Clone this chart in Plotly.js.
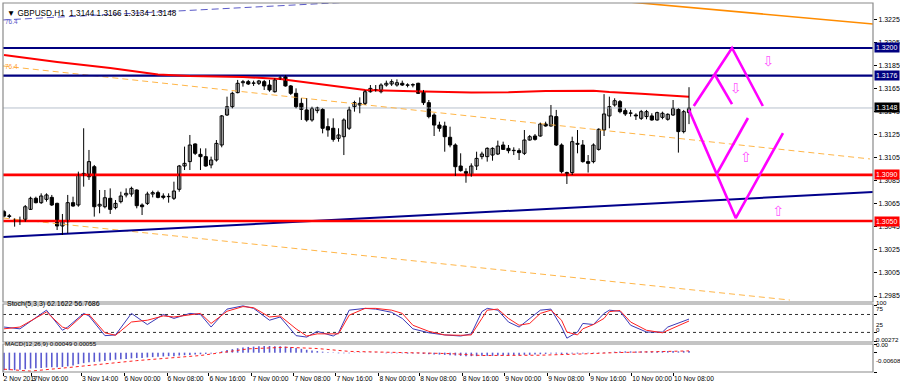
<!DOCTYPE html>
<html><head><meta charset="utf-8">
<script src="https://cdn.plot.ly/plotly-3.0.1.min.js"></script>
<style>html,body{margin:0;padding:0;background:#fff;}#chart{width:900px;height:387px;}</style>
</head><body><div id="chart"></div>
<script>
// ---- candles (bar index 0..129, H1 bars 2 Nov 2017 .. 10 Nov 10:00) ----
const barOpen = [1.30581,1.30545,1.30509,1.30503,1.30515,1.30601,1.30697,1.30659,1.30688,1.30705,
1.30653,1.30457,1.30494,1.30659,1.30639,1.30913,1.30884,1.30971,1.30630,1.30624,
1.30697,1.30616,1.30668,1.30726,1.30734,1.30769,1.30639,1.30653,1.30734,1.30746,
1.30717,1.30711,1.30697,1.30775,1.30977,1.31015,1.31168,1.31078,1.31058,1.30986,
1.31029,1.31159,1.31419,1.31491,1.31613,1.31699,1.31708,1.31694,1.31694,1.31708,
1.31679,1.31621,1.31737,1.31751,1.31671,1.31607,1.31520,1.31463,1.31376,1.31457,
1.31468,1.31318,1.31304,1.31217,1.31231,1.31304,1.31491,1.31506,1.31520,1.31621,
1.31636,1.31621,1.31679,1.31688,1.31679,1.31694,1.31679,1.31681,1.31694,1.31621,
1.31526,1.31419,1.31332,1.31324,1.31226,1.31159,1.30977,1.30928,1.30899,1.30977,
1.31058,1.31058,1.31072,1.31081,1.31159,1.31130,1.31110,1.31110,1.31087,1.31202,
1.31237,1.31237,1.31341,1.31324,1.31405,1.31159,1.30920,1.30920,1.31165,1.31159,
1.31015,1.31015,1.31121,1.31289,1.31411,1.31506,1.31535,1.31457,1.31434,1.31419,
1.31390,1.31405,1.31411,1.31376,1.31399,1.31382,1.31419,1.31468,1.31275,1.3144];
const barHigh = [1.30596,1.30561,1.30523,1.30538,1.30639,1.30711,1.30711,1.30740,1.30740,1.30726,
1.30659,1.30561,1.30726,1.30711,1.30928,1.31304,1.31116,1.30986,1.30769,1.30769,
1.30783,1.30682,1.30754,1.30783,1.30798,1.30775,1.30653,1.30754,1.30763,1.30763,
1.30740,1.30740,1.30841,1.30986,1.31145,1.31246,1.31173,1.31130,1.31130,1.31058,
1.31202,1.31419,1.31578,1.31621,1.31723,1.31723,1.31723,1.31717,1.31723,1.31723,
1.31723,1.31737,1.31757,1.31766,1.31679,1.31650,1.31564,1.31564,1.31491,1.31491,
1.31477,1.31390,1.31390,1.31304,1.31390,1.31491,1.31543,1.31572,1.31636,1.31679,
1.31679,1.31694,1.31717,1.31728,1.31728,1.31717,1.31694,1.31694,1.31699,1.31636,
1.31549,1.31434,1.31361,1.31361,1.31318,1.31173,1.31087,1.30957,1.31000,1.31101,
1.31101,1.31139,1.31139,1.31197,1.31188,1.31159,1.31139,1.31130,1.31289,1.31246,
1.31254,1.31353,1.31361,1.31506,1.31463,1.31173,1.30928,1.31231,1.31289,1.31202,
1.31072,1.31173,1.31304,1.31600,1.31578,1.31564,1.31549,1.31477,1.31463,1.31434,
1.31463,1.31463,1.31434,1.31448,1.31448,1.31434,1.31549,1.31477,1.31463,1.3166];
const barLow = [1.30532,1.30523,1.30451,1.30466,1.30494,1.30596,1.30653,1.30648,1.30668,1.30630,
1.30422,1.30379,1.30393,1.30624,1.30624,1.30798,1.30856,1.30538,1.30567,1.30610,
1.30561,1.30601,1.30653,1.30705,1.30711,1.30610,1.30552,1.30639,1.30705,1.30697,
1.30688,1.30659,1.30682,1.30754,1.30942,1.30942,1.31072,1.30942,1.30971,1.30957,
1.31015,1.31139,1.31411,1.31477,1.31607,1.31665,1.31679,1.31671,1.31679,1.31636,
1.31621,1.31613,1.31723,1.31665,1.31593,1.31477,1.31376,1.31361,1.31361,1.31434,
1.31260,1.31231,1.31188,1.31188,1.31072,1.31289,1.31448,1.31434,1.31506,1.31613,
1.31621,1.31607,1.31665,1.31671,1.31665,1.31671,1.31659,1.31659,1.31601,1.31506,
1.31390,1.31237,1.31275,1.31101,1.31139,1.30890,1.30928,1.30832,1.30884,1.30942,
1.31035,1.31015,1.31023,1.31072,1.31116,1.31087,1.31072,1.31029,1.31072,1.31197,
1.31197,1.31231,1.31318,1.31318,1.31150,1.30913,1.30821,1.30899,1.31087,1.31006,
1.30920,1.31000,1.31110,1.31237,1.31304,1.31491,1.31434,1.31411,1.31405,1.31376,
1.31376,1.31382,1.31370,1.31370,1.31382,1.31370,1.31411,1.31093,1.31260,1.3134];
const barClose = [1.30543,1.30540,1.30500,1.30505,1.30624,1.30697,1.30659,1.30717,1.30726,1.30639,
1.30457,1.30494,1.30659,1.30630,1.30899,1.30899,1.31015,1.30624,1.30645,1.30702,
1.30601,1.30653,1.30717,1.30740,1.30783,1.30633,1.30624,1.30734,1.30746,1.30705,
1.30705,1.30714,1.30760,1.30977,1.31000,1.31159,1.31087,1.31058,1.30977,1.31029,
1.31173,1.31411,1.31491,1.31607,1.31694,1.31708,1.31688,1.31696,1.31714,1.31671,
1.31636,1.31723,1.31739,1.31671,1.31607,1.31491,1.31468,1.31376,1.31477,1.31483,
1.31304,1.31289,1.31208,1.31246,1.31376,1.31463,1.31526,1.31520,1.31621,1.31650,
1.31639,1.31679,1.31694,1.31708,1.31699,1.31679,1.31677,1.31679,1.31607,1.31526,
1.31405,1.31332,1.31304,1.31231,1.31159,1.30971,1.30937,1.30913,1.30977,1.31043,
1.31081,1.31130,1.31130,1.31150,1.31121,1.31110,1.31113,1.31093,1.31202,1.31231,
1.31208,1.31341,1.31324,1.31411,1.31159,1.30928,1.30908,1.31188,1.31173,1.31015,
1.31000,1.31159,1.31295,1.31428,1.31491,1.31543,1.31448,1.31428,1.31436,1.31411,
1.31448,1.31448,1.31376,1.31440,1.31434,1.31425,1.31477,1.31275,1.31448,1.3148];

// ---- moving average (read at selected bars) ----
const maIdx = [0,10,20,29,35,45,52,58,65,68,77,88,95,102,111,114,120,127,129];
const maVal = [1.31939,1.31879,1.31827,1.31770,1.31757,1.31749,1.31731,1.31694,1.31656,1.31636,1.31625,1.31614,1.31616,1.31627,1.31630,1.31618,1.31604,1.31586,1.31578];

// ---- drawn objects (bar index, price) ----
const hLevelsNavy = [1.3200, 1.3176];
const hLevelsRed = [1.3090, 1.3050];
const bidLevel = 1.3148;
const fibBlueX = [-0.2, 70], fibBlueY = [1.32243, 1.32409];
const orangeTopX = [115, 163.65], orangeTopY = [1.32410, 1.32208];
const orangeDashUpX = [-0.2, 163.1], orangeDashUpY = [1.31844, 1.31038];
const orangeDashLowX = [-0.2, 148.0], orangeDashLowY = [1.30526, 1.29815];
const navyTrendX = [-0.2, 163.65], navyTrendY = [1.30361, 1.30751];
const zigX = [129.9,137.1,142.9,null,133.9,137.1,null,129.0,137.8,146.7,null,134.3,140.1];
const zigY = [1.31497,1.3200,1.31497,null,1.31766,1.31514,null,1.31462,1.30526,1.31263,null,1.30916,1.31393];
const arrowX = [143.9, 137.8, 139.7, 145.8];
const arrowY = [1.31870, 1.31636, 1.31046, 1.30578];
const arrowTxt = ['⇩','⇩','⇧','⇧'];

// ---- stochastic (5,3,3) ----
const stochIdx = [0,3,8,11,12,15,16,19,21,24,27,30,32,35,37,39,42,45,47,50,52,55,57,59,62,63,65,68,70,73,75,77,80,83,86,88,90,91,93,95,97,99,101,103,105,106,108,109,111,113,114,116,118,121,124,125,127,129];
const stochK = [40,35,87,31,40,78,71,16,18,78,47,75,64,78,75,40,90,99,92,59,68,16,12,28,15,24,87,92,90,81,64,35,24,18,15,21,83,92,87,54,40,64,87,90,40,9,26,50,47,78,87,84,45,26,26,40,50,62.16];
const stochD = [35,40,82,40,35,75,75,24,17,54,59,71,68,75,78,50,84,97,94,68,71,35,15,21,21,21,73,92,92,87,78,45,28,18,17,18,64,87,90,64,45,50,78,87,59,26,18,35,47,64,83,86,54,31,24,31,43,56.77];

// ---- MACD (12,26,9) ----
const macdHist = [-0.0055,-0.0055,-0.0055,-0.0054,-0.0052,-0.0050,-0.0049,-0.0048,-0.0047,
-0.0046,-0.0046,-0.0045,-0.0043,-0.0040,-0.0036,-0.0033,-0.0030,-0.0029,-0.0028,-0.0026,-0.0024,
-0.0022,-0.0021,-0.0020,-0.0018,-0.0017,-0.0017,-0.0015,-0.0014,-0.0013,-0.0012,-0.0011,-0.0011,
-0.0009,-0.0008,-0.0007,-0.0006,-0.0005,-0.0004,-0.0003,-0.0001,0.0004,0.0008,0.0011,
0.0014,0.0016,0.0018,0.0019,0.0020,0.0021,0.0021,0.0020,0.0020,0.0019,0.0017,0.0015,0.0012,
0.0009,0.0007,0.0005,0.0003,0.0001,-0.0001,
-0.0002,-0.0002,-0.0002,-0.0001,-0.0001,-0.0001,-0.0001,-0.0001,-0.0001,-0.0002,-0.0002,-0.0002,-0.0002,
-0.0003,-0.0003,-0.0003,-0.0004,-0.0005,-0.0006,-0.0006,-0.0007,-0.0008,
-0.0009,-0.0010,-0.0011,-0.0011,-0.0011,-0.0010,-0.0010,-0.0010,-0.0009,-0.0009,-0.0009,-0.0008,-0.0008,
-0.0007,-0.0007,-0.0006,-0.0005,-0.0004,
-0.0003,-0.0003,-0.0004,-0.0004,-0.0003,-0.0003,-0.0003,-0.0002,-0.0002,-0.0001,0.0001,0.0002,
0.0003,0.0004,0.0004,0.0004,0.0004,0.0004,0.0004,0.0004,0.0004,0.0005,0.0005,0.0005,0.0004,0.0005,0.00049];
const sigIdx = [0,5,12,18,25,37,46,53,59,65,75,84,90,101,109,115,129];
const sigVal = [-0.0052,-0.0058,-0.0047,-0.0037,-0.0025,-0.0009,0.0012,0.0017,0.0013,0.0004,0.0001,-0.0003,-0.0009,-0.0008,-0.0004,0.0000,0.00055];

// ---- axes ----
const xTickIdx = [-0.18,5.2,14.6,22.6,30.7,38.6,46.7,54.6,62.5,70.6,78.3,86.3,94.3,102.4,110.3,118.2,126.1];
const xTickText = ['2 Nov 2017','3 Nov 06:00','3 Nov 14:00','6 Nov 00:00','6 Nov 08:00','6 Nov 16:00','7 Nov 00:00','7 Nov 08:00','7 Nov 16:00','8 Nov 00:00','8 Nov 08:00','8 Nov 16:00','9 Nov 00:00','9 Nov 08:00','9 Nov 16:00','10 Nov 00:00','10 Nov 08:00'];
const priceTicks = [1.2985,1.3005,1.3025,1.3045,1.3065,1.3085,1.3105,1.3125,1.3145,1.3165,1.3185,1.3205,1.3225];

const FONT = 'Liberation Sans, Arial, sans-serif';
const idx = barOpen.map((_, i) => i);
const X0 = -0.19, X1 = 163.65;

const wickX = [], wickY = [];
idx.forEach(i => { wickX.push(i, i, null); wickY.push(barLow[i], barHigh[i], null); });
const bodyBase = idx.map(i => Math.min(barOpen[i], barClose[i]));
const bodyH = idx.map(i => Math.max(Math.abs(barClose[i] - barOpen[i]), 0.00003));
const bodyCol = idx.map(i => barClose[i] >= barOpen[i] ? '#ffffff' : '#000000');

function seg(x, y, color, width, dash, yaxis) {
  return {type:'scatter', mode:'lines', x:x, y:y, yaxis:yaxis||'y', line:{color:color, width:width, dash:dash||'solid'}, hoverinfo:'skip', showlegend:false};
}

const traces = [];
traces.push(seg([X0, X1], [bidLevel, bidLevel], '#b8c0cc', 1));
traces.push(seg(fibBlueX, fibBlueY, '#5a5ac8', 1, '7px,4px'));
traces.push(seg(orangeTopX, orangeTopY, '#ff8c00', 1.6));
traces.push(seg(orangeDashUpX, orangeDashUpY, '#ffb648', 1, '6px,4px'));
traces.push(seg(orangeDashLowX, orangeDashLowY, '#ffb648', 1, '6px,4px'));
traces.push(seg(navyTrendX, navyTrendY, '#00008b', 2));
hLevelsNavy.forEach(v => traces.push(seg([X0, X1], [v, v], '#000080', 2.2)));
hLevelsRed.forEach(v => traces.push(seg([X0, X1], [v, v], '#ff0000', 2.6)));
traces.push(seg(maIdx, maVal, '#ff0000', 2));
traces.push({type:'scatter', mode:'lines', x:wickX, y:wickY, line:{color:'#000', width:1}, hoverinfo:'skip', showlegend:false, connectgaps:false});
traces.push({type:'bar', x:idx, y:bodyH, base:bodyBase, width:0.6, marker:{color:bodyCol, line:{color:'#000', width:1}}, hoverinfo:'skip', showlegend:false});
traces.push({type:'scatter', mode:'lines', x:zigX, y:zigY, line:{color:'#ff00ff', width:2.6}, hoverinfo:'skip', showlegend:false, connectgaps:false});
traces.push({type:'scatter', mode:'text', x:arrowX, y:arrowY, text:arrowTxt, textfont:{family:'DejaVu Sans', size:14, color:'#ff55ff'}, hoverinfo:'skip', showlegend:false});
// stoch
traces.push(seg([X0, X1], [75, 75], '#303030', 1, 'dot', 'y2'));
traces.push(seg([X0, X1], [25, 25], '#303030', 1, 'dot', 'y2'));
traces.push(seg(stochIdx, stochK, '#3a3ab8', 1, 'solid', 'y2'));
traces.push(seg(stochIdx, stochD, '#ff2020', 1, 'solid', 'y2'));
// macd
traces.push({type:'bar', x:idx, y:macdHist, yaxis:'y3', width:0.3, marker:{color:'#5a5ad0', line:{width:0}}, hoverinfo:'skip', showlegend:false});
traces.push(seg(sigIdx, sigVal, '#ff2020', 1, 'dot', 'y3'));

const P = py => (372 - py) / 369; // pixel -> paper
const ann = [];
function lab(y, yref, text, bg) {
  ann.push({x:1, xref:'paper', xanchor:'left', xshift:1, y:y, yref:yref, text:text, showarrow:false,
    font:{family:FONT, size:7, color: bg ? '#fff' : '#000'}, bgcolor: bg || 'rgba(0,0,0,0)', borderpad:1});
}
lab(1.3200, 'y', '1.3200', '#000080');
lab(1.3176, 'y', '1.3176', '#000080');
lab(1.3148, 'y', '1.3148', '#000000');
lab(1.3090, 'y', '1.3090', '#ff0000');
lab(1.3050, 'y', '1.3050', '#ff0000');
[['100',307.5],['75',313.5],['25',330],['0',335],['0.00272',345],['0.00',349.5],['-0.00608',366]].forEach(a => {
  ann.push({x:1, xref:'paper', xanchor:'left', xshift:1, y:P(a[1]), yref:'paper', text:a[0], showarrow:false, font:{family:FONT, size:6.2, color:'#000'}});
});
ann.push({x:0, xref:'paper', xanchor:'left', xshift:2, y:P(7), yref:'paper', text:'▼ GBPUSD.H1  1.3144 1.3166 1.3134 1.3148', showarrow:false, font:{family:FONT, size:8.2, color:'#000'}});
ann.push({x:0, xref:'paper', xanchor:'left', xshift:0, y:P(16), yref:'paper', text:'76.4', showarrow:false, font:{family:FONT, size:6.5, color:'#5a5ac8'}});
ann.push({x:0, xref:'paper', xanchor:'left', xshift:0, y:P(61), yref:'paper', text:'76.4', showarrow:false, font:{family:FONT, size:6.5, color:'#ffa030'}});
ann.push({x:0, xref:'paper', xanchor:'left', xshift:2, y:P(310), yref:'paper', text:'Stoch(5,3,3) 62.1622 56.7686', showarrow:false, font:{family:FONT, size:7, color:'#000'}});
ann.push({x:0, xref:'paper', xanchor:'left', xshift:0, y:P(348.5), yref:'paper', text:'MACD(12,26,9) 0.00049 0.00055', showarrow:false, font:{family:FONT, size:6.2, color:'#000'}});

const shapes = [];
[[P(302), 1], [P(342), P(304)], [0, P(344)]].forEach(d => {
  shapes.push({type:'rect', xref:'paper', yref:'paper', x0:0, x1:1, y0:d[0], y1:d[1], line:{color:'#8a8a8a', width:1.2}, fillcolor:'rgba(0,0,0,0)', layer:'above'});
});

const layout = {
  width:900, height:387, margin:{l:3, r:27, t:3, b:15}, paper_bgcolor:'#fff', plot_bgcolor:'#fff',
  showlegend:false, hovermode:false, barmode:'overlay', font:{family:FONT, size:7, color:'#000'},
  xaxis:{range:[X0, X1], anchor:'y3', tickvals:xTickIdx, ticktext:xTickText, ticklabelposition:'outside right', tickangle:0,
    ticks:'outside', ticklen:3, tickcolor:'#000', tickfont:{family:FONT, size:6.7}, showgrid:false, zeroline:false, showline:false, automargin:false},
  yaxis:{domain:[P(302), 1], range:[1.29798, 1.3239], side:'right', anchor:'x', tickvals:priceTicks,
    ticktext:priceTicks.map(v => v.toFixed(4)), ticks:'outside', ticklen:3, tickcolor:'#000', tickfont:{family:FONT, size:7},
    showgrid:false, zeroline:false, showline:false, automargin:false},
  yaxis2:{domain:[P(342), P(304)], range:[-1.7, 104.2], side:'right', anchor:'x', tickvals:[0,25,75,100], showticklabels:false,
    ticks:'outside', ticklen:3, tickcolor:'#000', showgrid:false, zeroline:false, showline:false},
  yaxis3:{domain:[0, P(344)], range:[-0.00608, 0.00272], side:'right', anchor:'x', tickvals:[-0.00608,0,0.00272], showticklabels:false,
    ticks:'outside', ticklen:3, tickcolor:'#000', showgrid:false, zeroline:false, showline:false},
  annotations:ann, shapes:shapes
};
Plotly.newPlot('chart', traces, layout, {staticPlot:true, displayModeBar:false});
</script>
</body></html>
